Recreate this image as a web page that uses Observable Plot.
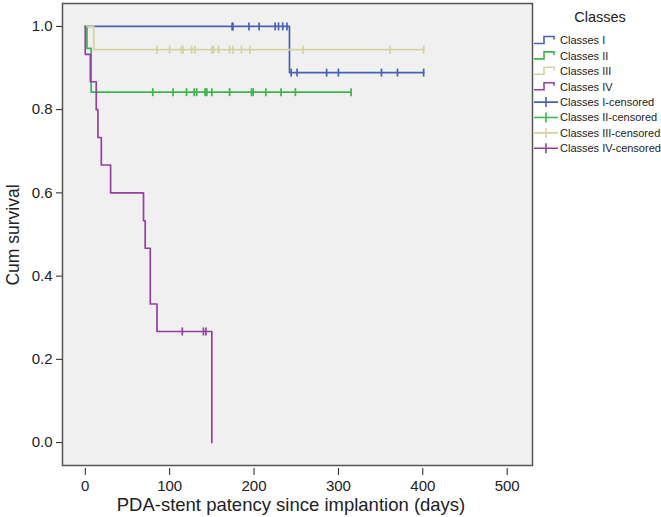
<!DOCTYPE html>
<html>
<head>
<meta charset="utf-8">
<script src="https://cdn.jsdelivr.net/npm/d3@7"></script>
<script src="https://cdn.jsdelivr.net/npm/@observablehq/plot@0.6"></script>
<style>
  html, body { margin: 0; padding: 0; background: #ffffff; }
  #chart { width: 661px; height: 517px; }
</style>
</head>
<body>
<div id="chart"></div>
<script>
// ---- data ----
const classNames = ["Classes I", "Classes II", "Classes III", "Classes IV"];
const classColors = ["#4a60b4", "#3db54e", "#d6d1a0", "#9341a0"];

const classITime = [0, 242, 401];
const classISurv = [1, 0.889, 0.889];
const classICensor = [174, 175, 194, 206, 225, 229, 234, 239, 244, 251, 286, 300, 351, 370, 401];

const classIITime = [0, 2, 7, 315];
const classIISurv = [1, 0.947, 0.842, 0.842];
const classIICensor = [80, 104, 120, 129, 132, 142, 144, 150, 171, 197, 199, 214, 232, 249, 315];

const classIIITime = [0, 10, 401];
const classIIISurv = [1, 0.944, 0.944];
const classIIICensor = [85, 100, 114, 116, 126, 130, 150, 152, 158, 171, 175, 185, 195, 258, 361, 401];

const classIVTime = [0, 0, 6, 13, 15, 19, 30, 69, 71, 77, 85, 150];
const classIVSurv = [1, 0.933, 0.867, 0.8, 0.733, 0.667, 0.6, 0.533, 0.467, 0.333, 0.267, 0];
const classIVCensor = [115, 140, 143];

const xTicks = [0, 100, 200, 300, 400, 500];
const yTicks = [0, 0.2, 0.4, 0.6, 0.8, 1.0];
const legendLabels = ["Classes I", "Classes II", "Classes III", "Classes IV",
  "Classes I-censored", "Classes II-censored", "Classes III-censored", "Classes IV-censored"];

// ---- build tables ----
const times = [classITime, classIITime, classIIITime, classIVTime];
const survs = [classISurv, classIISurv, classIIISurv, classIVSurv];
const censors = [classICensor, classIICensor, classIIICensor, classIVCensor];

const stepRows = [];
const censorRows = [];
function survAt(T, S, t) {
  let s = S[0];
  for (let i = 0; i < T.length; i++) if (T[i] <= t) s = S[i];
  return s;
}
classNames.forEach((name, k) => {
  times[k].forEach((t, i) => stepRows.push({cls: name, t, s: survs[k][i]}));
  censors[k].forEach(t => censorRows.push({cls: name, t, s: survAt(times[k], survs[k], t)}));
});

const vbar = {
  draw(context, size) {
    const r = Math.sqrt(size / Math.PI);
    context.moveTo(0, -r);
    context.lineTo(0, r);
  }
};

const plot = Plot.plot({
  width: 661,
  height: 517,
  marginLeft: 62,
  marginRight: 129,
  marginTop: 3,
  marginBottom: 52,
  style: {fontFamily: "Liberation Sans, Arial, sans-serif", fontSize: "15px", color: "#222", background: "#ffffff"},
  x: {domain: [-27, 530]},
  y: {domain: [-0.055, 1.055]},
  color: {domain: classNames, range: classColors},
  marks: [
    Plot.frame({fill: "#f0f0f0", stroke: "none"}),
    Plot.line(stepRows, {x: "t", y: "s", z: "cls", stroke: "cls", curve: "step-after", strokeWidth: 1.7}),
    Plot.dot(censorRows, {x: "t", y: "s", stroke: "cls", symbol: vbar, r: 4, strokeWidth: 1.7}),
    Plot.frame({stroke: "#555", strokeWidth: 1.5}),
    Plot.axisY({ticks: yTicks, tickFormat: d3.format(".1f"), tickSize: 6, tickPadding: 4, label: null, fontSize: 15}),
    Plot.axisX({ticks: xTicks, tickFormat: d3.format("d"), tickSize: 7, tickPadding: 5, dy: 3, label: null, fontSize: 15})
  ]
});

document.getElementById("chart").appendChild(plot);
const svg = d3.select(plot);

// axis titles
svg.append("text")
  .attr("x", 291).attr("y", 511)
  .attr("text-anchor", "middle")
  .attr("font-size", 18.5)
  .attr("fill", "#222")
  .text("PDA-stent patency since implantion (days)");
svg.append("text")
  .attr("transform", "translate(19,235) rotate(-90)")
  .attr("text-anchor", "middle")
  .attr("font-size", 17.5)
  .attr("fill", "#222")
  .text("Cum survival");

// legend
const lg = svg.append("g").attr("font-family", "Liberation Sans, Arial, sans-serif");
lg.append("text").attr("x", 600).attr("y", 22).attr("text-anchor", "middle")
  .attr("font-size", 14.5).attr("fill", "#222").text("Classes");
legendLabels.forEach((lab, i) => {
  const y = 40.5 + i * 15.4;
  const col = classColors[i % 4];
  const x0 = 534;
  if (i < 4) {
    lg.append("path")
      .attr("d", `M${x0},${y + 3}H${x0 + 10}V${y - 4}H${x0 + 20}V${y - 1}`)
      .attr("fill", "none").attr("stroke", col).attr("stroke-width", 1.6);
  } else {
    lg.append("path")
      .attr("d", `M${x0},${y}H${x0 + 24}M${x0 + 12},${y - 5}V${y + 5}`)
      .attr("fill", "none").attr("stroke", col).attr("stroke-width", 1.6);
  }
  lg.append("text").attr("x", 560).attr("y", y).attr("dy", "0.35em")
    .attr("text-anchor", "start")
    .attr("font-size", 11).attr("fill", "#222").text(lab);
});
</script>
</body>
</html>
